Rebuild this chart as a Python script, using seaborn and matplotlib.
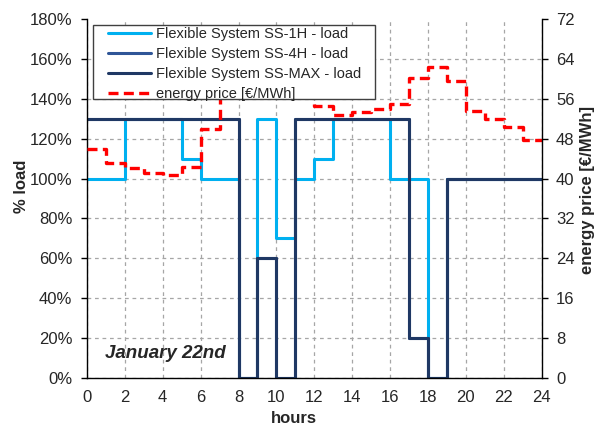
import numpy as np
import pandas as pd
import matplotlib
matplotlib.use("Agg")
import matplotlib.pyplot as plt
from matplotlib.ticker import PercentFormatter
from matplotlib.patches import Rectangle
import seaborn as sns

sns.set_style("white")
plt.rcParams['font.family'] = ['Liberation Sans', 'DejaVu Sans']

hours = list(range(25))
# hourly loads (%), last value repeated for the step end at hour 24
ss_1h = [100, 100, 130, 130, 130, 110, 100, 100, 0, 130, 70, 100, 110, 130, 130, 130,
         100, 100, 0, 100, 100, 100, 100, 100, 100]
ss_4h = [130, 130, 130, 130, 130, 130, 130, 130, 0, 60, 0, 130, 130, 130, 130, 130,
         130, 20, 0, 100, 100, 100, 100, 100, 100]
ss_max = [130, 130, 130, 130, 130, 130, 130, 130, 0, 60, 0, 130, 130, 130, 130, 130,
          130, 20, 0, 100, 100, 100, 100, 100, 100]
price = [45.9, 43.1, 42.2, 41.2, 40.7, 42.4, 50.0, 58.0, 62.0, 64.0, 62.0, 58.0,
         54.5, 52.7, 53.4, 53.9, 54.9, 60.1, 62.4, 59.6, 53.5, 51.9, 50.3, 47.7, 47.7]

labels = ["Flexible System SS-1H - load", "Flexible System SS-4H - load",
          "Flexible System SS-MAX - load", "energy price [€/MWh]"]
x_ticks = list(range(0, 25, 2))
y_ticks = list(range(0, 181, 20))
p_ticks = list(range(0, 73, 8))

df = pd.DataFrame({"hour": hours, "ss1h": ss_1h, "ss4h": ss_4h, "ssmax": ss_max, "price": price})

W, H = 597, 432
fig = plt.figure(figsize=(W / 100, H / 100), dpi=100)
L, R, B, T = 87, 541.5, 378, 19
ax = fig.add_axes([L / W, 1 - B / H, (R - L) / W, (B - T) / H])

c1, c4, cm, cr = "#00B0F0", "#2F5597", "#1F3864", "#FF0000"
lw = 2.2
sns.lineplot(data=df, x="hour", y="ss1h", ax=ax, color=c1, lw=lw, drawstyle="steps-post", label=labels[0], legend=False)
sns.lineplot(data=df, x="hour", y="ss4h", ax=ax, color=c4, lw=lw, drawstyle="steps-post", label=labels[1], legend=False)
sns.lineplot(data=df, x="hour", y="ssmax", ax=ax, color=cm, lw=lw, drawstyle="steps-post", label=labels[2], legend=False)

ax.set_xlim(0, 24)
ax.set_ylim(0, 180)
ax.set_xticks(x_ticks)
ax.set_yticks(y_ticks)
ax.yaxis.set_major_formatter(PercentFormatter(decimals=0))
ax.grid(True, color="#a6a6a6", linestyle=(0, (3, 3)), lw=0.9)
ax.get_ygridlines()[-1].set_visible(False)
ax.tick_params(axis="both", labelsize=12, length=4, width=1, color="black", direction="out")
ax.tick_params(axis="y", pad=6.5)
ax.tick_params(axis="x", pad=5)
for s in ["left", "bottom"]:
    ax.spines[s].set_color("black")
    ax.spines[s].set_linewidth(1)
ax.spines["top"].set_visible(False)
ax.spines["right"].set_visible(False)

ax.set_xlabel("hours", fontsize=12, fontweight="bold")
ax.xaxis.set_label_coords((294 - L) / (R - L), (B - 411) / (B - T))
ax.set_ylabel("% load", fontsize=12, fontweight="bold")
ax.yaxis.set_label_coords((29 - L) / (R - L), (B - 186) / (B - T))

ax2 = ax.twinx()
sns.lineplot(data=df, x="hour", y="price", ax=ax2, color=cr, lw=2.4, drawstyle="steps-post",
             label=labels[3], legend=False, dashes=False)
ax2.lines[-1].set_linestyle((0, (3, 1.6)))
ax2.set_ylim(0, 72)
ax2.set_yticks(p_ticks)
ax2.tick_params(axis="y", labelsize=12, length=4, width=1, color="black", direction="out", pad=6.5)
ax2.spines["right"].set_color("black")
ax2.spines["right"].set_linewidth(1)
for s in ["top", "left", "bottom"]:
    ax2.spines[s].set_visible(False)
ax2.set_ylabel("energy price [€/MWh]", fontsize=12, fontweight="bold")
ax2.yaxis.set_label_coords((580 - L) / (R - L), (B - 190) / (B - T))

# legend box
bx0, by0, bx1, by1 = 93, 25, 375, 99
rect = Rectangle((bx0 / W, 1 - by1 / H), (bx1 - bx0) / W, (by1 - by0) / H,
                 transform=fig.transFigure, facecolor="white", edgecolor="#404040",
                 lw=1.0, zorder=10)
fig.patches.append(rect)
handles = ax.get_lines()[:3] + [ax2.get_lines()[0]]
leg = fig.legend(handles, labels, loc="upper left",
                 bbox_to_anchor=((bx0 + 14) / W, 1 - (by0 + 0.5) / H),
                 frameon=False, fontsize=10.5, handlelength=2.9, handletextpad=0.35,
                 labelspacing=0.42, borderpad=0.1, borderaxespad=0)
leg.set_zorder(11)

t = fig.text(105 / W, 1 - 354 / H, "January 22nd", fontsize=13.5, fontweight="bold",
             fontstyle="italic", va="center", ha="left")

fig.savefig("out.png", dpi=100)
